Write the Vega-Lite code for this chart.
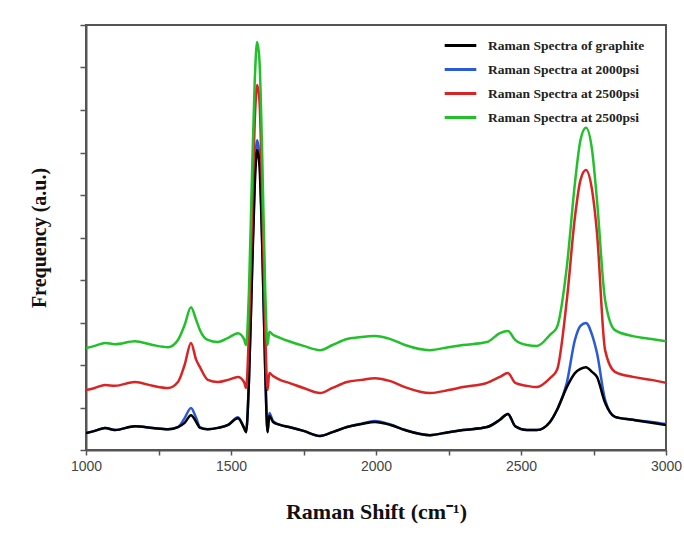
{
  "$schema": "https://vega.github.io/schema/vega-lite/v6.json",
  "width": 580,
  "height": 425,
  "autosize": "none",
  "padding": {"left": 86, "top": 25, "right": 18, "bottom": 87},
  "background": "white",
  "config": {
    "view": {"stroke": "#555", "strokeWidth": 2},
    "axis": {"grid": false, "domainColor": "#555", "domainWidth": 2, "tickColor": "#555", "tickWidth": 1.5}
  },
  "data": {"values": [
    {"w":1000,"k":0.40,"b":0.40,"r":1.41,"g":2.40},
    {"w":1030,"k":0.45,"b":0.45,"r":1.46,"g":2.45},
    {"w":1066,"k":0.52,"b":0.52,"r":1.53,"g":2.52},
    {"w":1100,"k":0.47,"b":0.47,"r":1.51,"g":2.49},
    {"w":1169,"k":0.56,"b":0.56,"r":1.60,"g":2.56},
    {"w":1230,"k":0.52,"b":0.52,"r":1.51,"g":2.47},
    {"w":1283,"k":0.49,"b":0.49,"r":1.46,"g":2.42},
    {"w":1317,"k":0.54,"b":0.54,"r":1.60,"g":2.59},
    {"w":1340,"k":0.64,"b":0.75,"r":2.00,"g":2.94},
    {"w":1362,"k":0.82,"b":0.99,"r":2.52,"g":3.36},
    {"w":1380,"k":0.66,"b":0.75,"r":2.12,"g":3.06},
    {"w":1393,"k":0.52,"b":0.54,"r":1.95,"g":2.82},
    {"w":1420,"k":0.49,"b":0.49,"r":1.65,"g":2.59},
    {"w":1455,"k":0.52,"b":0.52,"r":1.60,"g":2.54},
    {"w":1490,"k":0.59,"b":0.59,"r":1.65,"g":2.64},
    {"w":1524,"k":0.75,"b":0.77,"r":1.72,"g":2.75},
    {"w":1545,"k":0.52,"b":0.52,"r":1.60,"g":2.61},
    {"w":1552,"k":0.42,"b":0.42,"r":1.46,"g":2.47},
    {"w":1562,"k":1.65,"b":1.65,"r":2.82,"g":3.76},
    {"w":1572,"k":4.00,"b":4.10,"r":5.41,"g":6.35},
    {"w":1582,"k":6.24,"b":6.47,"r":7.76,"g":8.71},
    {"w":1590,"k":7.06,"b":7.29,"r":8.59,"g":9.60},
    {"w":1598,"k":6.71,"b":6.94,"r":8.24,"g":9.18},
    {"w":1608,"k":4.71,"b":4.80,"r":5.88,"g":6.82},
    {"w":1618,"k":1.88,"b":1.90,"r":2.82,"g":3.76},
    {"w":1626,"k":0.42,"b":0.42,"r":1.41,"g":2.47},
    {"w":1632,"k":0.80,"b":0.87,"r":1.81,"g":2.78},
    {"w":1645,"k":0.66,"b":0.68,"r":1.74,"g":2.71},
    {"w":1669,"k":0.59,"b":0.59,"r":1.65,"g":2.64},
    {"w":1700,"k":0.54,"b":0.54,"r":1.58,"g":2.56},
    {"w":1750,"k":0.45,"b":0.45,"r":1.46,"g":2.45},
    {"w":1807,"k":0.33,"b":0.33,"r":1.34,"g":2.35},
    {"w":1850,"k":0.42,"b":0.42,"r":1.46,"g":2.47},
    {"w":1900,"k":0.54,"b":0.54,"r":1.60,"g":2.61},
    {"w":1950,"k":0.61,"b":0.62,"r":1.65,"g":2.66},
    {"w":1996,"k":0.66,"b":0.68,"r":1.69,"g":2.68},
    {"w":2050,"k":0.59,"b":0.60,"r":1.62,"g":2.61},
    {"w":2100,"k":0.47,"b":0.47,"r":1.48,"g":2.47},
    {"w":2186,"k":0.35,"b":0.35,"r":1.34,"g":2.35},
    {"w":2250,"k":0.42,"b":0.42,"r":1.41,"g":2.42},
    {"w":2300,"k":0.47,"b":0.47,"r":1.48,"g":2.47},
    {"w":2383,"k":0.54,"b":0.54,"r":1.58,"g":2.54},
    {"w":2427,"k":0.71,"b":0.71,"r":1.72,"g":2.75},
    {"w":2455,"k":0.85,"b":0.85,"r":1.81,"g":2.80},
    {"w":2480,"k":0.56,"b":0.56,"r":1.58,"g":2.59},
    {"w":2520,"k":0.47,"b":0.47,"r":1.51,"g":2.47},
    {"w":2555,"k":0.47,"b":0.47,"r":1.48,"g":2.45},
    {"w":2600,"k":0.66,"b":0.66,"r":1.69,"g":2.71},
    {"w":2624,"k":0.94,"b":0.94,"r":1.88,"g":2.89},
    {"w":2658,"k":1.48,"b":1.58,"r":3.53,"g":4.31},
    {"w":2686,"k":1.81,"b":2.59,"r":5.48,"g":6.28},
    {"w":2705,"k":1.91,"b":2.92,"r":6.35,"g":7.29},
    {"w":2724,"k":1.95,"b":2.99,"r":6.59,"g":7.58},
    {"w":2745,"k":1.84,"b":2.71,"r":6.12,"g":7.06},
    {"w":2762,"k":1.72,"b":2.28,"r":5.11,"g":5.88},
    {"w":2790,"k":1.11,"b":1.18,"r":2.35,"g":3.53},
    {"w":2824,"k":0.78,"b":0.78,"r":1.84,"g":2.82},
    {"w":2886,"k":0.71,"b":0.71,"r":1.72,"g":2.68},
    {"w":2950,"k":0.64,"b":0.66,"r":1.65,"g":2.61},
    {"w":3000,"k":0.59,"b":0.61,"r":1.58,"g":2.56}
  ]},
  "transform": [{"fold": ["b", "k", "r", "g"], "as": ["series", "v"]}],
  "mark": {"type": "line", "strokeWidth": 2.5, "interpolate": "monotone", "clip": true},
  "encoding": {
    "x": {
      "field": "w", "type": "quantitative",
      "scale": {"domain": [1000, 3000], "nice": false, "zero": false},
      "axis": {
        "title": "Raman Shift (cm⁻¹)",
        "values": [1000, 1250, 1500, 1750, 2000, 2250, 2500, 2750, 3000],
        "format": "d",
        "labelExpr": "datum.value % 500 == 0 ? datum.label : ''",
        "labelFont": "Liberation Sans", "labelFontSize": 14, "labelColor": "#444",
        "labelPadding": 4, "tickSize": 5, "labelFlush": false,
        "titleFont": "Liberation Serif", "titleFontSize": 22, "titleFontWeight": "bold", "titleColor": "#111",
        "titlePadding": 28
      }
    },
    "y": {
      "field": "v", "type": "quantitative",
      "scale": {"domain": [0, 10], "nice": false},
      "axis": {
        "title": "Frequency (a.u.)",
        "values": [0, 1, 2, 3, 4, 5, 6, 7, 8, 9, 10],
        "labels": false, "tickSize": 6,
        "titleFont": "Liberation Serif", "titleFontSize": 20, "titleFontWeight": "bold", "titleColor": "#111",
        "titlePadding": 30
      }
    },
    "color": {
      "field": "series", "type": "nominal",
      "scale": {"domain": ["k", "b", "r", "g"], "range": ["#000000", "#2a5ad8", "#d82424", "#22c02a"]},
      "legend": {
        "title": null, "orient": "none", "legendX": 357, "legendY": 3,
        "symbolType": "stroke", "symbolSize": 1000, "symbolStrokeWidth": 3,
        "labelFont": "Liberation Serif", "labelFontSize": 13.5, "labelFontWeight": "bold", "labelColor": "#222",
        "rowPadding": -12, "labelOffset": 10,
        "labelExpr": "datum.value == 'k' ? 'Raman Spectra of graphite' : datum.value == 'b' ? 'Raman Spectra at 2000psi' : 'Raman Spectra at 2500psi'"
      }
    },
    "order": {"field": "series"}
  }
}
